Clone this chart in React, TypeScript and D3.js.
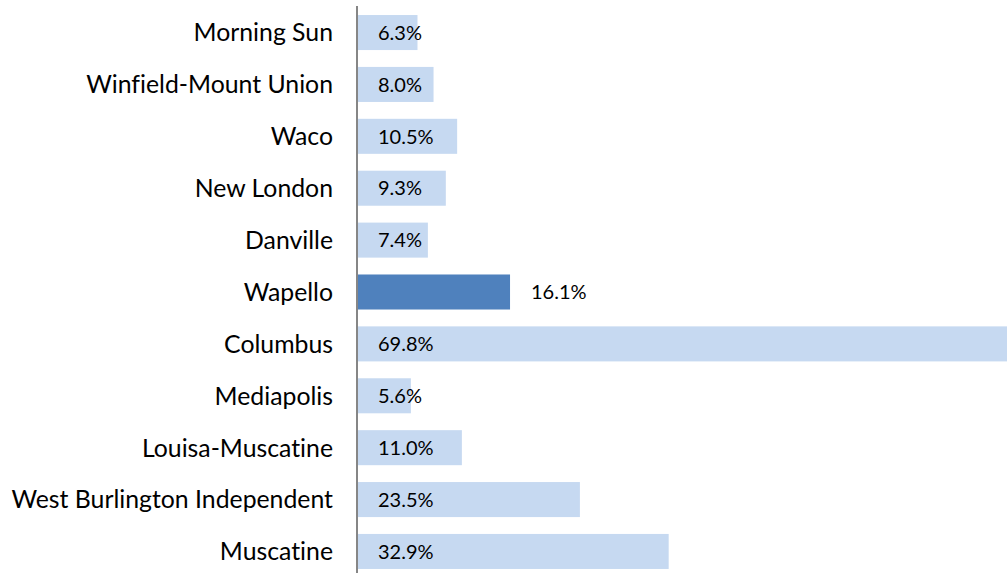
import React from 'react';
import * as d3 from 'd3';

const districts = [
  'Morning Sun',
  'Winfield-Mount Union',
  'Waco',
  'New London',
  'Danville',
  'Wapello',
  'Columbus',
  'Mediapolis',
  'Louisa-Muscatine',
  'West Burlington Independent',
  'Muscatine',
];
const shares = [6.3, 8.0, 10.5, 9.3, 7.4, 16.1, 69.8, 5.6, 11.0, 23.5, 32.9];
const highlighted = 'Wapello';

const width = 1007;
const height = 573;

const App = () => {
  const rows = districts.map((name, i) => ({ name, value: shares[i] }));

  // band scale for the rows, linear for the percentage
  const y = d3.scaleBand<string>()
    .domain(districts)
    .range([6.6, 577.4])
    .paddingInner(0.325)
    .paddingOuter(0.1625);

  const x = d3.scaleLinear().domain([0, 70]).range([358, 1019]);

  const font = 'Lato, "Open Sans", sans-serif';

  return (
    <svg
      width={width}
      height={height}
      style={{ display: 'block', position: 'absolute', left: 0, top: 0, fontVariantLigatures: 'none' }}
    >
      <rect width={width} height={height} fill="#fff" />
      {rows.map(d => {
        const yc = (y(d.name) as number) + y.bandwidth() / 2;
        const hi = d.name === highlighted;
        return (
          <g key={d.name}>
            <rect
              x={x(0)}
              y={y(d.name)}
              width={x(d.value) - x(0)}
              height={y.bandwidth()}
              fill={hi ? '#4F81BD' : '#C6D9F1'}
            />
            <text
              x={333}
              y={yc}
              dy="0.36em"
              textAnchor="end"
              fontFamily={font}
              fontSize={24.8}
              fill="#000"
            >
              {d.name}
            </text>
            <text
              x={hi ? x(d.value) + 21 : x(0) + 20}
              y={yc}
              dy="0.36em"
              fontFamily={font}
              fontSize={20}
              fill="#000"
            >
              {d.value.toFixed(1)}%
            </text>
          </g>
        );
      })}
      <line x1={357} x2={357} y1={6} y2={573} stroke="#868686" strokeWidth={2} />
    </svg>
  );
};

export default App;
